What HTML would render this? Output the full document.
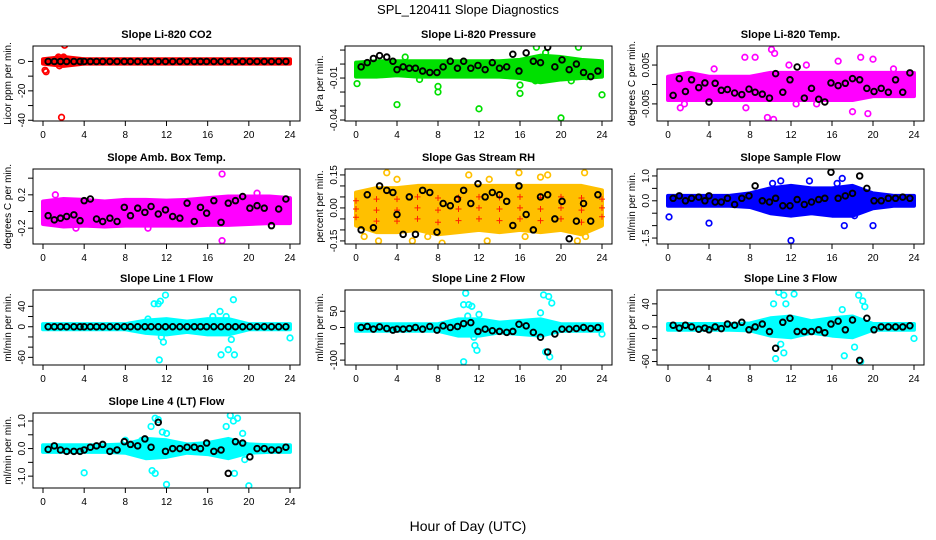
<!DOCTYPE html>
<html><head><meta charset="utf-8"><style>
html,body{margin:0;padding:0;background:#fff}
svg{display:block;font-family:"Liberation Sans",sans-serif}
</style></head><body>
<svg id="chart" width="936" height="540" viewBox="0 0 936 540" xmlns="http://www.w3.org/2000/svg">
<text x="468" y="14" text-anchor="middle" font-size="13">SPL_120411  Slope Diagnostics</text>
<text x="468" y="531" text-anchor="middle" font-size="14">Hour of Day (UTC)</text>
</svg>
<script>
const xTicks=[0,4,8,12,16,20,24];
const bandHours=[0,2,4,6,8,10,12,14,16,18,20,22,24];
const blackHours=[0.5,1.1,1.7,2.3,3,3.6,4,4.6,5.2,5.8,6.5,7.2,7.9,8.5,9.2,9.9,10.5,11.2,11.9,12.6,13.3,14,14.7,15.3,15.9,16.6,17.3,18,18.7,19.4,20.1,20.8,21.5,22.2,22.9,23.6];

const p1BandLo=[-1.5,-3,-1.5,-1.5,-1.5,-1.5,-1.5,-1.5,-1.5,-1.5,-1.5,-1.5,-1.5];
const p1BandHi=[1.5,3,1.5,1.5,1.5,1.5,1.5,1.5,1.5,1.5,1.5,1.5,1.5];
const p1Out=[[0.2,-6],[0.3,-7],[1.8,-38],[2.1,11],[1.5,3],[2,3],[1.6,-3],[1.4,2]];
const p1Black=[0,0,0,0,0,0,0,0,0,0,0,0,0,0,0,0,0,0,0,0,0,0,0,0,0,0,0,0,0,0,0,0,0,0,0,0];

const p2BandLo=[-0.009,-0.009,-0.008,-0.009,-0.009,-0.009,-0.009,-0.009,-0.01,-0.013,-0.011,-0.01,-0.009];
const p2BandHi=[0.001,0.002,0.002,0.002,0.002,0.002,0.002,0.002,0.003,0.006,0.005,0.003,0.002];
const p2Out=[[0.1,-0.014],[4,-0.029],[8,-0.016],[8,-0.02],[12,-0.032],[16,-0.015],[16,-0.021],[17.6,0.012],[20,-0.0385],[21.7,0.012],[24,-0.022],[6.2,-0.011],[17.5,-0.012],[21,-0.012],[22.5,-0.009],[4.8,0.005],[18.5,0.008]];
const p2Black=[-0.002,0.001,0.004,0.006,0.005,0.002,-0.004,-0.002,-0.003,-0.003,-0.005,-0.006,-0.006,-0.002,0.002,-0.003,0.002,-0.003,-0.001,-0.004,0.001,-0.003,-0.002,0.007,-0.005,0.008,0.002,0.001,0.012,-0.002,0.003,-0.004,0,-0.006,-0.009,-0.005];

const p3BandLo=[-0.004,-0.004,-0.004,-0.004,-0.004,-0.004,-0.004,-0.004,-0.004,-0.004,-0.003,-0.003,-0.003];
const p3BandHi=[0.002,0.003,0.002,0.002,0.002,0.003,0.003,0.003,0.003,0.003,0.003,0.003,0.003];
const p3Out=[[1.2,-0.006],[1.6,-0.005],[7.5,0.007],[7.6,-0.006],[8.5,0.007],[9.7,-0.0085],[10.1,0.009],[10.4,0.008],[10.3,-0.009],[11.8,0.005],[13.5,0.005],[16.6,0.006],[18,-0.007],[18.8,0.007],[19.5,-0.0075],[20,0.0065],[12.5,-0.005],[4.5,0.004],[22,0.004],[14.5,-0.005]];
const p3Black=[-0.0028,0.0015,-0.0018,0.0012,-0.0008,0.0004,-0.0045,0.0003,-0.0015,-0.0013,-0.0022,-0.0026,-0.0012,-0.002,-0.0025,-0.0035,0.0028,-0.002,0.0012,0.0045,-0.0035,-0.001,-0.0038,-0.0045,0.0004,-0.0003,0.0003,0.0015,0.0012,-0.001,-0.0018,-0.001,-0.002,0.0012,-0.002,0.003];

const p4BandLo=[-0.15,-0.18,-0.17,-0.18,-0.17,-0.17,-0.17,-0.17,-0.16,-0.16,-0.15,-0.14,-0.14];
const p4BandHi=[0.12,0.15,0.14,0.12,0.14,0.14,0.13,0.14,0.16,0.18,0.18,0.18,0.16];
const p4Out=[[17.4,0.45],[17.4,-0.35],[3.2,-0.2],[10.2,-0.2],[20.8,0.22],[1.2,0.2]];
const p4Black=[-0.05,-0.1,-0.08,-0.06,-0.04,-0.11,0.13,0.15,-0.09,-0.12,-0.08,-0.12,0.05,-0.05,0.04,-0.01,0.06,-0.03,0.02,-0.06,-0.08,0.1,-0.12,0.05,-0.02,0.13,-0.13,0.1,0.13,0.18,0.04,0.07,0.04,-0.17,0.03,0.15];

const p5BandLo=[-0.08,-0.11,-0.11,-0.1,-0.12,-0.11,-0.1,-0.11,-0.1,-0.11,-0.1,-0.12,-0.08];
const p5BandHi=[0.07,0.09,0.09,0.1,0.1,0.1,0.1,0.1,0.1,0.1,0.1,0.1,0.08];
const p5Out=[[0.8,-0.13],[2.2,-0.15],[3,0.16],[5.5,-0.15],[7,-0.13],[8.4,-0.16],[11,0.15],[12.8,-0.15],[13,0.13],[15.9,0.16],[18,0.14],[18.7,0.15],[21.6,-0.15],[22.3,0.16],[22.4,-0.13],[4,0.13],[16.5,-0.13]];
const p5Black=[-0.1,0.06,-0.09,0.1,0.08,0.07,-0.03,-0.12,0.05,-0.12,0.08,0.07,-0.11,0.02,0.01,0.04,0.08,0.02,0.11,0.05,0.07,0.06,0.03,-0.08,0.1,-0.03,-0.1,0.05,0.06,-0.05,0.03,-0.14,-0.06,0.02,-0.06,0.06];

const p6BandLo=[-0.2,-0.2,-0.2,-0.2,-0.25,-0.5,-0.6,-0.5,-0.6,-0.6,-0.3,-0.2,-0.2];
const p6BandHi=[0.2,0.2,0.2,0.2,0.3,0.5,0.6,0.5,0.5,0.6,0.3,0.2,0.2];
const p6Out=[[0.1,-0.65],[4,-0.9],[12,-1.6],[17.2,-1.0],[20,-1.0],[11,0.8],[17,0.9],[13.8,0.8],[16.5,0.7],[10.2,0.7],[18.2,-0.6]];
const p6Black=[0.1,0.2,0,0.1,0.15,0,0.2,-0.05,-0.05,0.1,-0.15,0.1,0.2,0.6,0,-0.05,0.1,-0.2,-0.2,0.05,-0.15,-0.05,0.05,0.1,1.15,0.1,0.2,0.3,1.0,0.5,0,0,0.1,0.1,0.15,0.1];

const p7BandLo=[-5,-5,-5,-5,-5,-12,-15,-10,-15,-15,-5,-5,-5];
const p7BandHi=[5,5,5,5,5,12,15,10,15,15,5,5,5];
const p7Out=[[10.8,45],[11.2,45],[11.4,50],[11.9,62],[11.5,-20],[11.7,-30],[11.3,-65],[18.5,53],[17.3,-55],[18,-45],[18.6,-55],[17.2,30],[24,-22],[17.8,20],[16.5,20],[10.2,15],[18.3,-25]];
const p7Black=[0,0,0,0,0,0,0,0,0,0,0,0,0,0,0,0,0,0,0,0,0,0,0,0,0,0,0,0,0,0,0,0,0,0,0,0];

const p8BandLo=[-10,-10,-10,-10,-10,-25,-25,-15,-20,-25,-10,-10,-10];
const p8BandHi=[10,10,10,10,10,25,25,15,20,25,10,10,10];
const p8Out=[[10.5,70],[10.7,105],[11,70],[11.3,65],[11.5,-30],[11.8,-70],[11.6,-55],[10.5,-105],[18.3,100],[18.8,95],[19.1,75],[18.5,-75],[18.9,-90],[24,-20],[18,45],[12,40],[10.9,35]];
const p8Black=[0,3,-5,2,-3,-8,-5,-5,-3,0,-5,3,-8,5,0,3,12,15,-12,-5,-10,-12,-15,-12,10,5,-15,-30,-75,-20,-5,-5,-3,0,-3,0];

const p9BandLo=[-5,-5,-5,-5,-6,-15,-18,-10,-15,-18,-5,-5,-5];
const p9BandHi=[5,5,5,5,6,15,18,10,15,18,5,5,5];
const p9Out=[[10.3,40],[10.8,60],[11.3,55],[11.5,40],[12.3,57],[10.5,-55],[11.3,-45],[18.6,55],[19,45],[19.2,35],[17.2,-50],[18.8,-60],[18.2,-35],[17,30],[24,-20],[11,-30]];
const p9Black=[3,-2,3,0,-4,-2,-5,0,-3,5,3,8,-5,0,5,-8,-37,8,15,-8,-8,-8,-5,-10,5,10,-5,12,-58,15,-5,0,0,0,0,2];

const p10BandLo=[-0.12,-0.12,-0.12,-0.12,-0.15,-0.35,-0.3,-0.15,-0.2,-0.35,-0.15,-0.12,-0.12];
const p10BandHi=[0.12,0.12,0.12,0.12,0.15,0.35,0.3,0.15,0.2,0.35,0.15,0.12,0.12];
const p10Out=[[4,-0.88],[10.5,0.8],[10.9,1.1],[11.2,1.05],[10.6,-0.8],[10.9,-0.9],[11.6,0.6],[12,0.55],[12,-1.3],[18.2,1.2],[18.5,1.0],[18.9,1.1],[17.8,0.8],[19.4,0.55],[18.6,-0.9],[20,-1.35],[19.6,-0.4],[8,0.3],[9.6,0.3]];
const p10Black=[-0.03,0.1,-0.05,-0.1,-0.1,-0.1,-0.05,0.05,0.1,0.15,-0.1,-0.05,0.25,0.15,0.1,0.35,0.05,0.95,-0.1,0,0,0.05,0.05,0,0.2,-0.1,-0.05,-0.9,0.25,0.2,-0.3,0,0,-0.05,-0.05,0.05];

const svg=document.getElementById('chart');
const NS='http://www.w3.org/2000/svg';
function mk(tag,attrs,parent){const e=document.createElementNS(NS,tag);for(const k in attrs)e.setAttribute(k,attrs[k]);(parent||svg).appendChild(e);return e;}

const panels=[
 {key:'co2',title:'Slope Li-820 CO2',ylab:'Licor ppm per min.',col:0,row:0,ylim:[-40.5,10.5],ticks:[0,-10,-20,-30,-40],labels:{'0':'0','-20':'-20','-40':'-40'},color:'#ff0000',lo:p1BandLo,hi:p1BandHi,out:p1Out,blk:p1Black},
 {key:'pressure',title:'Slope Li-820 Pressure',ylab:'kPa per min.',col:1,row:0,ylim:[-0.0407,0.0129],ticks:[0.01,0,-0.01,-0.02,-0.03,-0.04],labels:{'-0.01':'-0.01','-0.04':'-0.04'},color:'#00e000',lo:p2BandLo,hi:p2BandHi,out:p2Out,blk:p2Black},
 {key:'temp',title:'Slope Li-820 Temp.',ylab:'degrees C per min.',col:2,row:0,ylim:[-0.0094,0.0099],ticks:[0.005,0,-0.005],labels:{'0.005':'0.005','-0.005':'-0.005'},color:'#ff00ff',lo:p3BandLo,hi:p3BandHi,out:p3Out,blk:p3Black},
 {key:'ambbox',title:'Slope Amb. Box Temp.',ylab:'degrees C per min.',col:0,row:1,ylim:[-0.39,0.51],ticks:[0.4,0.2,0,-0.2],labels:{'0.2':'0.2','-0.2':'-0.2'},color:'#ff00ff',lo:p4BandLo,hi:p4BandHi,out:p4Out,blk:p4Black},
 {key:'rh',title:'Slope Gas Stream RH',ylab:'percent per min.',col:1,row:1,ylim:[-0.164,0.177],ticks:[0.15,0.1,0.05,0,-0.05,-0.1,-0.15],labels:{'0.15':'0.15','0':'0.00','-0.15':'-0.15'},color:'#ffc000',cross:'#ff2000',lo:p5BandLo,hi:p5BandHi,out:p5Out,blk:p5Black},
 {key:'sampleflow',title:'Slope Sample Flow',ylab:'ml/min per min.',col:2,row:1,ylim:[-1.74,1.28],ticks:[1,0.5,0,-0.5,-1,-1.5],labels:{'1':'1.0','0':'0.0','-1.5':'-1.5'},color:'#0000ff',lo:p6BandLo,hi:p6BandHi,out:p6Out,blk:p6Black},
 {key:'line1',title:'Slope Line 1 Flow',ylab:'ml/min per min.',col:0,row:2,ylim:[-75,72],ticks:[40,20,0,-20,-40,-60],labels:{'40':'40','0':'0','-60':'-60'},color:'#00ffff',lo:p7BandLo,hi:p7BandHi,out:p7Out,blk:p7Black},
 {key:'line2',title:'Slope Line 2 Flow',ylab:'ml/min per min.',col:1,row:2,ylim:[-115,115],ticks:[50,0,-50,-100],labels:{'50':'50','0':'0','-100':'-100'},color:'#00ffff',lo:p8BandLo,hi:p8BandHi,out:p8Out,blk:p8Black},
 {key:'line3',title:'Slope Line 3 Flow',ylab:'ml/min per min.',col:2,row:2,ylim:[-66,64],ticks:[40,20,0,-20,-40,-60],labels:{'40':'40','0':'0','-60':'-60'},color:'#00ffff',lo:p9BandLo,hi:p9BandHi,out:p9Out,blk:p9Black},
 {key:'line4',title:'Slope Line 4 (LT) Flow',ylab:'ml/min per min.',col:0,row:3,ylim:[-1.43,1.29],ticks:[1,0.5,0,-0.5,-1],labels:{'1':'1.0','0':'0.0','-1':'-1.0'},color:'#00ffff',lo:p10BandLo,hi:p10BandHi,out:p10Out,blk:p10Black}
];
const colX=[[33,300,43,290],[345,612,356,602],[657,924,668,914]];
const rowY=[46,169,290,413];
const BH=75;

panels.forEach(p=>{
 const [bx0,bx1,x0,x24]=colX[p.col];
 const by0=rowY[p.row], by1=by0+BH;
 const xs=h=>x0+(x24-x0)*h/24;
 const ys=v=>by1-(v-p.ylim[0])/(p.ylim[1]-p.ylim[0])*BH;
 const g=mk('g',{});
 
 
 const t=mk('text',{x:(bx0+bx1)/2,y:by0-8,'text-anchor':'middle','font-size':'11','font-weight':'bold'},g);
 
 
 t.textContent=p.title;
 const yl=mk('text',{x:0,y:0,'text-anchor':'middle','font-size':'10',transform:`translate(${bx0-22},${(by0+by1)/2}) rotate(-90)`},g);
 
 
 yl.textContent=p.ylab;
 const clip='clip-'+p.key;
 const cp=mk('clipPath',{id:clip},g);
 mk('rect',{x:bx0,y:by0,width:bx1-bx0,height:BH},cp);
 const marks=mk('g',{'clip-path':`url(#${clip})`},g);
 
 
 let pts=bandHours.map((h,i)=>xs(h)+','+ys(p.hi[i]));
 pts=pts.concat(bandHours.map((h,i)=>xs(h)+','+ys(p.lo[i])).reverse());
 const band=mk('polygon',{points:pts.join(' '),fill:p.color,stroke:p.color,'stroke-width':4,'stroke-linejoin':'round'},marks);
 
 
 if(p.cross){
  bandHours.forEach((h,i)=>{[0.25,0.5,0.75].forEach(f=>{
   const v=p.lo[i]+(p.hi[i]-p.lo[i])*f;
   const c=mk('path',{d:`M${xs(h)-3},${ys(v)}h6M${xs(h)},${ys(v)-3}v6`,stroke:p.cross,'stroke-width':1},marks);
   
   
  });});
 }
 p.out.forEach(d=>{
  const c=mk('circle',{cx:xs(d[0]),cy:ys(d[1]),r:2.8,fill:'none',stroke:p.color,'stroke-width':1.7},marks);
  
  
 });
 blackHours.forEach((h,i)=>{
  const c=mk('circle',{cx:xs(h),cy:ys(p.blk[i]),r:2.8,fill:'none',stroke:'#000','stroke-width':1.9},marks);
  
  
 });
 const box=mk('rect',{x:bx0,y:by0,width:bx1-bx0,height:BH,fill:'none',stroke:'#000','stroke-width':1},g);
 
 
 xTicks.forEach(h=>{
  mk('line',{x1:xs(h),x2:xs(h),y1:by1,y2:by1+5,stroke:'#000'},g);
  const tl=mk('text',{x:xs(h),y:by1+17,'text-anchor':'middle','font-size':'10'},g);
  
  
  tl.textContent=h;
 });
 p.ticks.forEach(v=>{
  mk('line',{x1:bx0-5,x2:bx0,y1:ys(v),y2:ys(v),stroke:'#000'},g);
  const lab=p.labels[String(v)];
  if(lab){
   const tl=mk('text',{x:0,y:0,'text-anchor':'middle','font-size':'10',transform:`translate(${bx0-8},${ys(v)}) rotate(-90)`},g);
   
   
   tl.textContent=lab;
  }
 });
});
</script>
</body></html>
